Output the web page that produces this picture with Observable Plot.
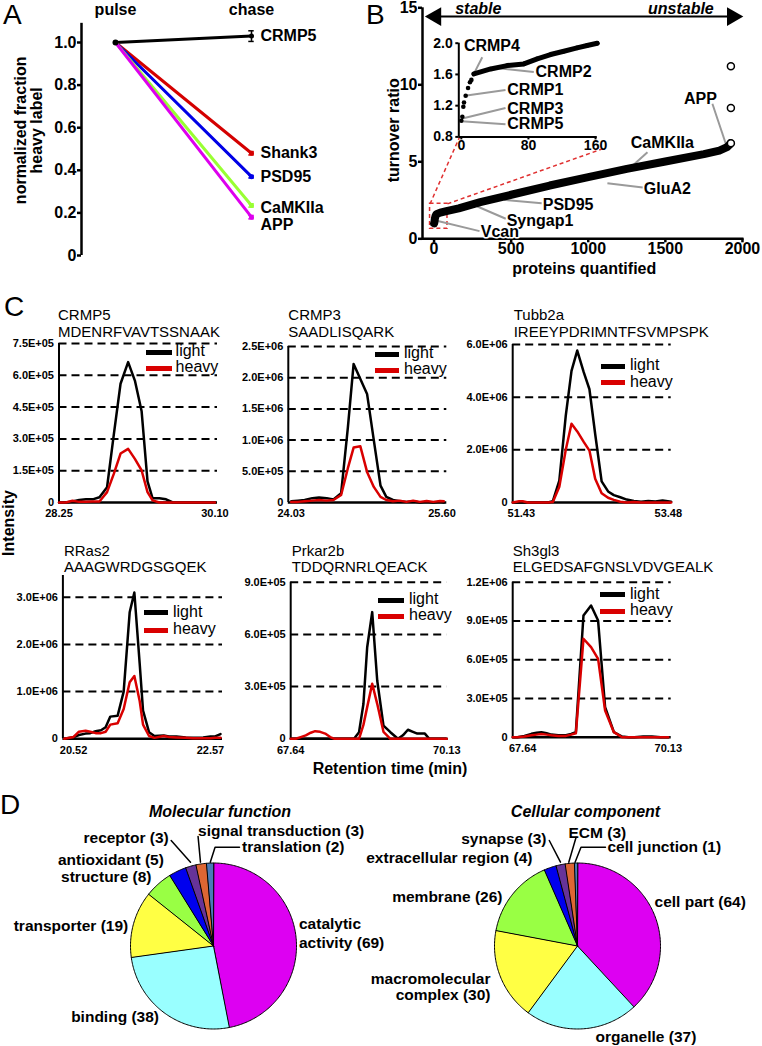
<!DOCTYPE html>
<html><head><meta charset="utf-8">
<script src="https://cdn.jsdelivr.net/npm/d3@7"></script>
<script src="https://cdn.jsdelivr.net/npm/@observablehq/plot@0.6"></script>
<style>
body{margin:0;background:#fff;}
#fig{position:relative;width:762px;height:1046px;font-family:"Liberation Sans",Arial,sans-serif;overflow:hidden;}
#fig svg{position:absolute;left:0;top:0;}
.lbl{position:absolute;white-space:nowrap;color:#000;line-height:0.9;}
.sw{position:absolute;height:5px;}
</style></head><body><div id="fig"></div>
<script>
// ---------------- Panel A data ----------------
const aProteins = ["CRMP5","Shank3","PSD95","CaMKIIa","APP"];
const aPulse = [1,1,1,1,1];
const aChase = [1.03,0.48,0.37,0.235,0.18];
const aErr = [0.025,0.008,0.006,0.008,0.008];
const aLabelY = [1.03,0.48,0.37,0.225,0.145];
const aTimepoints = ["pulse","chase"];
const aColors = ["#000000","#d40000","#0000e6","#99ff33","#dd00ee"];
const aYTicks = [0,0.2,0.4,0.6,0.8,1.0];
const aYLabel = ["normalized fraction","heavy label"];

// ---------------- Panel B data ----------------
const bRank = [0,2,5,10,16,40,80,160,300,500,750,1000,1250,1500,1750,1850,1900,1915,1922];
const bRatio = [1.0,1.05,1.3,1.5,1.6,1.7,1.8,1.98,2.38,2.86,3.46,4.0,4.54,5.02,5.5,5.73,5.95,6.1,6.2];
const bOutRank = [1925,1925,1925];
const bOutRatio = [6.2,8.5,11.2];
const bXTicks = [0,500,1000,1500,2000];
const bYTicks = [0,5,10,15];
const bCallName = ["CaMKIIa","GluA2","PSD95","Syngap1","Vcan","APP"];
const bCallTextX = [1276,1360,705,471,303,1621];
const bCallTextY = [6.25,3.27,2.23,1.19,0.42,9.09];
const bCallFrom = [[1384,5.62],[1124,3.61],[454,2.53],[281,2.10],[11,1.19],[1805,8.77]];
const bCallTo = [[1276,4.65],[1354,3.33],[698,2.31],[465,1.30],[295,0.5],[1892,6.17]];
const inRank = [0,1.2,2.4,3.2,5.2,8,10.3,12,15,35,54.7,74.6,90.5,106.4,122.2,138,150,162];
const inRatio = [1.006,1.057,1.186,1.241,1.327,1.426,1.50,1.53,1.606,1.67,1.713,1.735,1.80,1.855,1.897,1.94,1.97,2.0];
const inXTicks = [0,80,160];
const inYTicks = [0.8,1.2,1.6,2.0];
const inCallName = ["CRMP4","CRMP2","CRMP1","CRMP3","CRMP5"];
const inCallTextX = [3.1,88.5,54.8,54.8,54.8];
const inCallTextY = [1.97,1.63,1.40,1.156,0.963];
const inCallFrom = [[25,1.82],[86.4,1.63],[52.7,1.40],[52.7,1.17],[52.7,0.963]];
const inCallTo = [[15,1.61],[44.8,1.68],[6.3,1.33],[2.4,1.04],[0,1.0]];

// ---------------- Panel C data ----------------
const crmp5Time  = [28.25,28.33,28.41,28.49,28.57,28.65,28.73,28.82,28.90,28.98,29.07,29.15,29.23,29.30,29.36,29.44,29.52,29.60,29.70,29.80,29.90,30.00,30.10];
const crmp5Light = [0,0,5e3,1.2e4,1.5e4,1.5e4,2.5e4,7.2e4,3.2e5,5.6e5,6.62e5,5.75e5,4.3e5,1.0e5,2.0e4,2.0e4,1.5e4,0,0,0,0,0,0];
const crmp5Heavy = [0,0,8e3,3e3,3e3,5e3,5e3,4.9e4,1.35e5,2.31e5,2.53e5,2.06e5,1.51e5,4.9e4,1.0e4,0,0,0,0,0,0,0,0];
const crmp5YTicks = [0,1.5e5,3e5,4.5e5,6e5,7.5e5];
const crmp5XTicks = [28.25,30.10];

const crmp3Time  = [24.03,24.10,24.17,24.25,24.32,24.40,24.47,24.55,24.62,24.68,24.75,24.82,24.89,24.96,25.02,25.09,25.16,25.23,25.30,25.37,25.44,25.51,25.58,25.62];
const crmp3Light = [2e4,3e4,4e4,7e4,8e4,7e4,5e4,1.5e5,1.2e6,2.22e6,1.98e6,1.74e6,1.0e6,2.7e5,9e4,4e4,2e4,1e4,2e4,0,1e4,0,1e4,0];
const crmp3Heavy = [1e4,1e4,2e4,3e4,4e4,3e4,4e4,1.2e5,5.5e5,8.8e5,9e5,4.9e5,2.5e5,9e4,4e4,2e4,3e4,1e4,3e4,1e4,2.5e4,1e4,2.5e4,2e4];
const crmp3YTicks = [0,5e5,1e6,1.5e6,2e6,2.5e6];
const crmp3XTicks = [24.03,25.60];

const tubbTime  = [51.31,51.40,51.45,51.52,51.60,51.70,51.80,51.87,51.96,52.05,52.13,52.21,52.30,52.38,52.46,52.55,52.64,52.72,52.81,52.90,53.00,53.10,53.20,53.30,53.40,53.52];
const tubbLight = [0,0,0,0,0,0,0,5e4,8.3e5,3.3e6,5.0e6,5.77e6,4.95e6,4.3e6,2.6e6,8e5,4.2e5,2.8e5,2.0e5,1.1e5,6e4,3e4,6e4,4e4,8e4,3e4];
const tubbHeavy = [0,5e4,5e4,0,0,0,0,2e4,6e5,2.0e6,2.99e6,2.7e6,2.3e6,1.97e6,9e5,3.5e5,1.8e5,1.0e5,3e4,0,2e4,0,0,0,0,0];
const tubbYTicks = [0,2e6,4e6,6e6];
const tubbXTicks = [51.43,53.48];

const rrasTime  = [20.38,20.52,20.60,20.70,20.77,20.85,20.93,21.00,21.07,21.18,21.27,21.36,21.43,21.51,21.56,21.65,21.73,21.87,21.95,22.06,22.20,22.31,22.46,22.57,22.64,22.72];
const rrasLight = [0,3.4e4,8e4,1.1e5,1.2e5,1.6e5,1.8e5,2.45e5,4.7e5,4.9e5,1.0e6,2.68e6,3.1e6,1.59e6,6e5,1.4e5,6e4,7e4,5e4,5e4,3e4,2e4,3e4,5e4,5e4,1.0e5];
const rrasHeavy = [0,4e4,1.5e5,1.7e5,1.5e5,1.2e5,1.2e5,1.5e5,3e5,3.3e5,6.3e5,1.2e6,1.33e6,8e5,3e5,6e4,2e4,6e4,4e4,3e4,2e4,1e4,1e4,1e4,2e4,2e4];
const rrasYTicks = [0,1e6,2e6,3e6];
const rrasXTicks = [20.52,22.57];

const prkTime  = [67.64,67.72,67.80,67.88,67.96,68.03,68.11,68.19,68.27,68.34,68.42,68.50,68.58,68.65,68.73,68.80,68.86,68.94,69.02,69.12,69.23,69.35,69.43,69.51,69.59,69.66,69.78,69.85,69.95,70.05,70.13];
const prkLight = [0,0,0,0,0,0,0,0,0,0,0,0,0,0,3.8e4,2e5,5.26e5,7.28e5,3.35e5,7.6e4,3.8e4,0,2e4,5.2e4,4e4,3e4,3e4,0,0,0,0];
const prkHeavy = [0,0,1e4,2e4,3.5e4,4.4e4,4e4,3e4,1e4,0,0,0,0,0,0,8e4,1.82e5,3.16e5,2.01e5,4e4,0,0,0,0,0,0,0,0,0,0,0];
const prkYTicks = [0,3e5,6e5,9e5];
const prkXTicks = [67.64,70.13];

const sh3Time  = [67.47,67.55,67.67,67.79,67.88,67.96,68.05,68.13,68.25,68.38,68.47,68.55,68.68,68.81,68.93,69.05,69.20,69.34,69.45,69.55,69.70,69.85,70.00,70.13];
const sh3Light = [0,0,1e4,2.6e4,3.5e4,3.9e4,3e4,2e4,1.5e4,1.5e4,2.5e4,3.9e4,9.42e5,1.02e6,9.03e5,2.32e5,3.9e4,5e3,0,0,5e3,5e3,0,0];
const sh3Heavy = [0,0,5e3,1.5e4,2e4,2.5e4,2e4,1.5e4,1e4,1e4,2e4,3e4,7.62e5,6.97e5,6.07e5,2.07e5,3.9e4,0,0,0,0,0,0,0];
const sh3YTicks = [0,3e5,6e5,9e5,1.2e6];
const sh3XTicks = [67.64,70.13];

const chromNames = ["CRMP5","CRMP3","Tubb2a","RRas2","Prkar2b","Sh3gl3"];
const chromPeptides = ["MDENRFVAVTSSNAAK","SAADLISQARK","IREEYPDRIMNTFSVMPSPK","AAAGWRDGSGQEK","TDDQRNRLQEACK","ELGEDSAFGNSLVDVGEALK"];
const seriesNames = ["light","heavy"];

// ---------------- Panel D data ----------------
const mfCategories = ["catalytic activity","binding","transporter","structure","antioxidant","receptor","signal transduction","translation"];
const mfCounts = [69,38,19,8,5,3,3,2];
const ccCategories = ["cell part","organelle","macromolecular complex","membrane","extracellular region","synapse","ECM","cell junction"];
const ccCounts = [64,37,30,26,4,3,3,1];
const pieTitles = ["Molecular function","Cellular component"];
const pieColors = ["#dd00f2","#99ffff","#ffff44","#99ff44","#0000ee","#663399","#dd6633","#4a7ab8"];

// ---------------- layout ----------------
const W = 762, H = 1046;
const FONT = '"Liberation Sans", Arial, sans-serif';
const fig = document.getElementById("fig");

function panel(box, options){
  const [l,t,r,b] = box;
  const svg = Plot.plot(Object.assign({
    width: W, height: H,
    marginLeft: l, marginTop: t, marginRight: W - r, marginBottom: H - b,
    style: {background: "transparent", fontFamily: FONT, fontSize: "16px", overflow: "visible"}
  }, options));
  fig.appendChild(svg);
  return svg;
}
function html(text, css, cls="lbl"){
  const d = document.createElement("div");
  d.className = cls;
  d.textContent = text;
  Object.assign(d.style, css);
  fig.appendChild(d);
  return d;
}
const B = {fontWeight: "bold"};
const MID = {textAnchor: "middle", lineAnchor: "middle"};

// ---------------- Panel A ----------------
const aRows = aProteins.flatMap((p,i)=>[{p, t:0, v:aPulse[i], c:aColors[i]}, {p, t:1, v:aChase[i], c:aColors[i]}]);
const aEnd = aProteins.map((p,i)=>({p, t:1, v:aChase[i], e:aErr[i], c:aColors[i], ly:aLabelY[i]}));
panel([81, 20.7, 251, 255], {
  x: {domain: [-0.25, 1], axis: null, label: null},
  y: {domain: [0, 1.1], axis: null, label: null},
  color: {type: "identity"},
  marks: [
    Plot.ruleX([-0.25], {y1: 0, y2: 1.09, strokeWidth: 2.5}),
    Plot.axisY(aYTicks, {tickFormat: d => d === 0 ? "0" : d.toFixed(1), tickSize: 4, tickPadding: 1, strokeWidth: 2.5, fontSize: 16, label: null, ...B}),
    Plot.line(aRows, {x: "t", y: "v", z: "p", stroke: "c", strokeWidth: 3}),
    Plot.ruleX(aEnd, {x: "t", y1: d => d.v - d.e, y2: d => d.v + d.e, stroke: "c", strokeWidth: 1.5}),
    Plot.ruleY(aEnd, {x1: d => d.t - 0.02, x2: d => d.t + 0.02, y: d => d.v + d.e, stroke: "c", strokeWidth: 1.5}),
    Plot.ruleY(aEnd, {x1: d => d.t - 0.02, x2: d => d.t + 0.02, y: d => d.v - d.e, stroke: "c", strokeWidth: 1.5}),
    Plot.dot(aEnd, {x: "t", y: "v", r: 2.5, fill: "c"}),
    Plot.dot([{t: 0, v: 1}], {x: "t", y: "v", r: 3, fill: "black"}),
    Plot.text(aEnd, {x: "t", y: "ly", text: "p", dx: 9, textAnchor: "start", fontSize: 16, ...B}),
    Plot.text(aTimepoints, {x: (d,i) => i, text: d => d, frameAnchor: "top", dy: -11, fontSize: 16, ...MID, ...B}),
    Plot.text([aYLabel[0]], {text: d => d, frameAnchor: "left", rotate: -90, dx: -61, dy: -8, fontSize: 16, ...MID, ...B}),
    Plot.text([aYLabel[1]], {text: d => d, frameAnchor: "left", rotate: -90, dx: -44.3, dy: -8, fontSize: 16, ...MID, ...B})
  ]
});

// ---------------- Panel B main ----------------
const bCurve = bRank.map((x,i)=>({x, y: bRatio[i]}));
const bOut = bOutRank.map((x,i)=>({x, y: bOutRatio[i]}));
const bCall = bCallName.map((n,i)=>({n, tx: bCallTextX[i], ty: bCallTextY[i], x1: bCallFrom[i][0], y1: bCallFrom[i][1], x2: bCallTo[i][0], y2: bCallTo[i][1]}));
panel([422, 7.3, 743.5, 238.3], {
  x: {domain: [-75, 2010], axis: null, label: null},
  y: {domain: [0, 15], axis: null, label: null},
  marks: [
    Plot.rect([{x1: -26, x2: 87, y1: 0.65, y2: 2.27}], {x1: "x1", x2: "x2", y1: "y1", y2: "y2", fill: "none", stroke: "#e03030", strokeWidth: 1.5, strokeDasharray: "4,3"}),
    Plot.link([{x1: -26, y1: 2.27, x2: 167, y2: 6.64}, {x1: 87, y1: 2.27, x2: 1092, y2: 5.84}], {x1: "x1", y1: "y1", x2: "x2", y2: "y2", stroke: "#e03030", strokeWidth: 1.5, strokeDasharray: "4,3"}),
    Plot.ruleX([-75], {y1: 0, y2: 15, strokeWidth: 2.5}),
    Plot.ruleY([0], {x1: -75, x2: 2010, strokeWidth: 2.5}),
    Plot.axisY(bYTicks, {tickSize: 4, tickPadding: 1, strokeWidth: 2.5, fontSize: 16, label: null, ...B}),
    Plot.axisX(bXTicks, {tickFormat: d => String(d), tickSize: 4, tickPadding: 0, strokeWidth: 2.5, fontSize: 16, label: null, ...B}),
    Plot.link(bCall, {x1: "x1", y1: "y1", x2: "x2", y2: "y2", stroke: "#9a9a9a", strokeWidth: 2}),
    Plot.line(bCurve, {x: "x", y: "y", strokeWidth: 8, strokeLinejoin: "round", strokeLinecap: "round"}),
    Plot.dot(bOut, {x: "x", y: "y", r: 3.5, fill: "white", stroke: "black", strokeWidth: 1.5}),
    Plot.text(bCall, {x: "tx", y: "ty", text: "n", textAnchor: "start", fontSize: 16, stroke: "white", strokeWidth: 3, fill: "black", ...B}),
    Plot.link([{x1: 40, x2: 1905, y: 14.43}], {x1: "x1", x2: "x2", y1: "y", y2: "y", strokeWidth: 2}),
    Plot.dot([{x: 11, y: 14.43, a: -90}, {x: 1935, y: 14.43, a: 90}], {x: "x", y: "y", rotate: "a", symbol: "triangle", r: 7, fill: "black"}),
    Plot.text(["stable"], {x: 287, y: 14.95, text: d => d, fontStyle: "italic", fontSize: 16, ...B}),
    Plot.text(["unstable"], {x: 1814, y: 14.95, text: d => d, textAnchor: "end", fontStyle: "italic", fontSize: 16, ...B}),
    Plot.text(["turnover ratio"], {text: d => d, frameAnchor: "left", rotate: -90, dx: -28.7, dy: 7, fontSize: 16, ...MID, ...B}),
    Plot.text(["proteins quantified"], {text: d => d, frameAnchor: "bottom", dx: 1, dy: 29.7, fontSize: 16, ...MID, ...B})
  ]
});

// ---------------- Panel B inset ----------------
const inPts = inRank.map((x,i)=>({x, y: inRatio[i]}));
const inCall = inCallName.map((n,i)=>({n, tx: inCallTextX[i], ty: inCallTextY[i], x1: inCallFrom[i][0], y1: inCallFrom[i][1], x2: inCallTo[i][0], y2: inCallTo[i][1]}));
panel([458.3, 42.7, 596.7, 136.4], {
  x: {domain: [-3, 162], axis: null, label: null},
  y: {domain: [0.8, 2.0], axis: null, label: null},
  marks: [
    Plot.ruleX([-3], {y1: 0.8, y2: 2.0, strokeWidth: 2}),
    Plot.ruleY([0.8], {x1: -3, x2: 162, strokeWidth: 2}),
    Plot.axisY(inYTicks, {tickFormat: d => d.toFixed(1), tickSize: 3, tickPadding: 3, strokeWidth: 2, fontSize: 14, label: null, ...B}),
    Plot.axisX(inXTicks, {tickSize: 3, tickPadding: 0, strokeWidth: 2, fontSize: 14, label: null, ...B}),
    Plot.link(inCall, {x1: "x1", y1: "y1", x2: "x2", y2: "y2", stroke: "#9a9a9a", strokeWidth: 2}),
    Plot.line(inPts.filter(d => d.x >= 14), {x: "x", y: "y", strokeWidth: 5, strokeLinecap: "round"}),
    Plot.dot(inPts, {x: "x", y: "y", r: 2.3, fill: "black"}),
    Plot.text(inCall, {x: "tx", y: "ty", text: "n", textAnchor: "start", fontSize: 16, ...B})
  ]
});

// ---------------- Panel C ----------------
function fmtE(v){
  if (v === 0) return "0";
  const [m, e] = v.toExponential(1).split("e");
  return m + "E" + (e[0] === "-" ? "-" : "+") + e.replace(/[+-]/, "").padStart(2, "0");
}
const chromSeries = [
  [crmp5Time, crmp5Light, crmp5Heavy, crmp5YTicks, crmp5XTicks],
  [crmp3Time, crmp3Light, crmp3Heavy, crmp3YTicks, crmp3XTicks],
  [tubbTime, tubbLight, tubbHeavy, tubbYTicks, tubbXTicks],
  [rrasTime, rrasLight, rrasHeavy, rrasYTicks, rrasXTicks],
  [prkTime, prkLight, prkHeavy, prkYTicks, prkXTicks],
  [sh3Time, sh3Light, sh3Heavy, sh3YTicks, sh3XTicks]
];
const chromLayout = [
  {box: [58.5, 343, 217, 502], xd: [28.25, 30.13], ymax: 7.5e5, tdx: -1, tdy: [-28, -11], leg: [146, 172, 352, 368, 175.6]},
  {box: [287.8, 346, 446.3, 502], xd: [24.0, 25.65], ymax: 2.5e6, tdx: 0, tdy: [-31, -14], leg: [374.6, 399, 354, 370, 404]},
  {box: [512.2, 344, 670.7, 502], xd: [51.31, 53.52], ymax: 6e6, tdx: 1, tdy: [-29, -12], leg: [601, 625, 366, 382.5, 630]},
  {box: [62.4, 575, 222, 738.3], xd: [20.36, 22.75], ymax: 3.46e6, tdx: 1, tdy: [-24, -8], leg: [144, 168, 612.7, 630, 173]},
  {box: [290.2, 581.7, 446.3, 738.3], xd: [67.64, 70.13], ymax: 9e5, tdx: 1, tdy: [-30.7, -14.7], leg: [378, 404, 600, 616, 409]},
  {box: [512.2, 581.7, 670.7, 736.7], xd: [67.47, 70.18], ymax: 1.2e6, tdx: 0, tdy: [-30.7, -14.7], leg: [600, 625, 594.5, 611, 630]}
];
const lineColors = ["#000000", "#d90000"];
chromSeries.forEach(([time, light, heavy, yTicks, xTicks], k) => {
  const L = chromLayout[k];
  const lightRows = time.map((t,i)=>({t, v: light[i]}));
  const heavyRows = time.map((t,i)=>({t, v: heavy[i]}));
  panel(L.box, {
    x: {domain: L.xd, axis: null, label: null},
    y: {domain: [0, L.ymax], axis: null, label: null},
    marks: [
      Plot.ruleY(yTicks.filter(v => v > 0), {stroke: "black", strokeWidth: 2, strokeDasharray: "8,5"}),
      Plot.ruleX([L.xd[0]], {y1: 0, y2: L.ymax, strokeWidth: 2}),
      Plot.ruleY([0], {strokeWidth: 2.5}),
      Plot.axisY(yTicks, {tickFormat: fmtE, tickSize: 0, tickPadding: 5, fontSize: 11, label: null, ...B}),
      Plot.axisX(xTicks, {tickFormat: d => d.toFixed(2), tickSize: 0, tickPadding: 7, fontSize: 11, label: null, ...B}),
      Plot.line(lightRows, {x: "t", y: "v", stroke: lineColors[0], strokeWidth: 2.5}),
      Plot.line(heavyRows, {x: "t", y: "v", stroke: lineColors[1], strokeWidth: 2.5}),
      Plot.text([chromNames[k]], {text: d => d, frameAnchor: "top-left", textAnchor: "start", lineAnchor: "middle", dx: L.tdx, dy: L.tdy[0], fontSize: 15}),
      Plot.text([chromPeptides[k]], {text: d => d, frameAnchor: "top-left", textAnchor: "start", lineAnchor: "middle", dx: L.tdx, dy: L.tdy[1], fontSize: 15})
    ]
  });
  const [s0, s1, yl, yh, tx] = L.leg;
  [yl, yh].forEach((yy, j) => {
    html("", {left: s0 + "px", top: (yy - 2.5) + "px", width: (s1 - s0) + "px", background: lineColors[j]}, "sw");
    html(seriesNames[j], {left: tx + "px", top: (yy - 7.7) + "px", fontSize: "16px"});
  });
});
html("Intensity", {left: "8.5px", top: "523px", fontSize: "16px", fontWeight: "bold", transform: "translate(-50%,-50%) rotate(-90deg)"});
html("Retention time (min)", {left: "390px", top: "769px", fontSize: "16px", fontWeight: "bold", transform: "translate(-50%,-50%)"});

// ---------------- Panel D ----------------
function slicePoints(cats, vals){
  const arcs = d3.pie().sort(null).value(d => d)(vals);
  const pts = [];
  arcs.forEach((a, i) => {
    const n = Math.max(2, Math.ceil((a.endAngle - a.startAngle) / (Math.PI / 180)));
    pts.push({k: cats[i], c: pieColors[i], x: 0, y: 0});
    for (let j = 0; j <= n; j++) {
      const ang = a.startAngle + (a.endAngle - a.startAngle) * j / n;
      pts.push({k: cats[i], c: pieColors[i], x: Math.sin(ang), y: Math.cos(ang)});
    }
  });
  return pts;
}
const pieLayout = [
  {box: [130, 862.5, 296, 1028.5], tdx: 6.5,
   lab: [[1.03,0.159,"start",1.2],[-0.657,-0.861,"end"],[-1.027,0.239,"end"],[-0.747,0.825,"end"],[-0.598,1.03,"end"],[-0.539,1.295,"end"],[-0.186,1.38,"start"],[0.343,1.19,"start"]],
   lead: [[[-0.51,1.271],[-0.277,1.01]], [[-0.186,1.32],[-0.157,1.01]], [[0.313,1.19],[0.019,1.19],[-0.039,1.01]]]},
  {box: [494, 862.5, 660, 1028.5], tdx: 8,
   lab: [[0.928,0.524,"start"],[0.217,-1.102,"start"],[-1.048,-0.496,"end",1.02],[-0.904,0.584,"end"],[-0.542,1.054,"end"],[-0.373,1.283,"end"],[-0.108,1.367,"start"],[0.361,1.187,"start"]],
   lead: [[[-0.34,1.271],[-0.205,1.01]], [[-0.017,1.311],[-0.105,1.01]], [[0.337,1.19],[0.042,1.19],[-0.029,1.01]]]}
];
[[mfCategories, mfCounts], [ccCategories, ccCounts]].forEach(([cats, vals], k) => {
  const P = pieLayout[k];
  const pts = slicePoints(cats, vals);
  const leads = P.lead.flatMap((seg, j) => seg.map(([x, y]) => ({j, x, y})));
  const labels = cats.map((c, i) => ({
    text: P.lab[i][3] ? c.replace(" ", "\n") + " (" + vals[i] + ")" : c + " (" + vals[i] + ")",
    x: P.lab[i][0], y: P.lab[i][1], a: P.lab[i][2], lh: P.lab[i][3]
  }));
  const textMarks = labels.map(l => Plot.text([l], {x: "x", y: "y", text: "text", textAnchor: l.a, lineAnchor: "middle", lineHeight: l.lh || 1, fontSize: 15.5, ...B}));
  panel(P.box, {
    x: {domain: [-1, 1], axis: null, label: null},
    y: {domain: [-1, 1], axis: null, label: null},
    color: {type: "identity"},
    marks: [
      Plot.line(pts, {x: "x", y: "y", z: "k", fill: "c", stroke: "black", strokeWidth: 1, curve: "linear-closed"}),
      Plot.line(leads, {x: "x", y: "y", z: "j", stroke: "black", strokeWidth: 1.5}),
      ...textMarks,
      Plot.text([pieTitles[k]], {text: d => d, frameAnchor: "top", dx: P.tdx, dy: -51.5, fontSize: 16, fontStyle: "italic", ...MID, ...B})
    ]
  });
});

// ---------------- panel letters ----------------
html("A", {left: "3px", top: "2.4px", fontSize: "28px"});
html("B", {left: "366px", top: "2.4px", fontSize: "28px"});
html("C", {left: "4px", top: "294.4px", fontSize: "28px"});
html("D", {left: "0px", top: "792.4px", fontSize: "28px"});
</script></body></html>
